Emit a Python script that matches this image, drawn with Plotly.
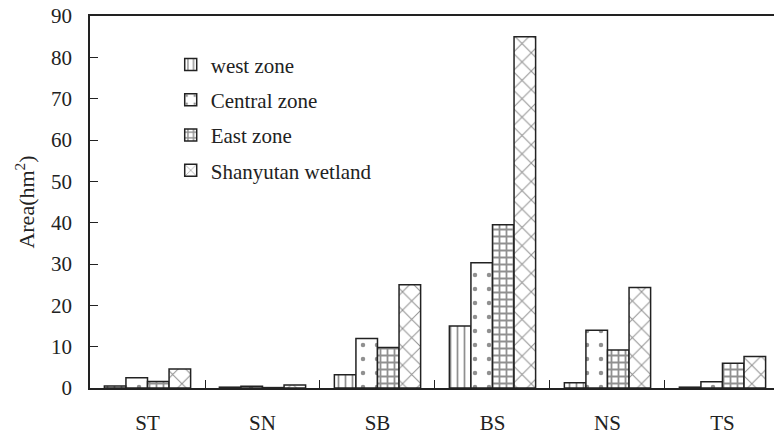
import plotly.graph_objects as go

categories = ["ST", "SN", "SB", "BS", "NS", "TS"]
west_zone = [0.5, 0.2, 3.2, 15.0, 1.3, 0.2]
central_zone = [2.5, 0.4, 12.0, 30.3, 14.0, 1.5]
east_zone = [1.6, 0.1, 9.8, 39.5, 9.2, 6.0]
shanyutan_wetland = [4.6, 0.7, 25.0, 85.0, 24.3, 7.6]

series = [
    ("west zone", west_zone, dict(shape="|", size=7, solidity=0.25)),
    ("Central zone", central_zone, dict(shape=".", size=14, solidity=0.08)),
    ("East zone", east_zone, dict(shape="+", size=7, solidity=0.45)),
    ("Shanyutan wetland", shanyutan_wetland, dict(shape="x", size=13, solidity=0.15)),
]

FONT = "Liberation Serif, Times New Roman, serif"

fig = go.Figure()
for i, (name, vals, pat) in enumerate(series):
    fig.add_trace(go.Bar(
        x=categories, y=vals, name=name, legendgroup=f"g{i}",
        marker=dict(color="white", line=dict(color="#222", width=1.5),
                    pattern=dict(fgcolor="#222", bgcolor="white", **pat)),
    ))

fig.update_layout(
    width=774, height=435,
    margin=dict(l=90, r=0, t=16, b=47),
    paper_bgcolor="white", plot_bgcolor="white",
    barmode="group", bargap=0.25, bargroupgap=0,
    font=dict(family=FONT, size=21, color="#222"),
    legend=dict(x=0.118, y=0.924, xanchor="left", yanchor="top",
                bgcolor="rgba(0,0,0,0)", font=dict(size=21),
                traceorder="grouped", tracegroupgap=5, itemwidth=30),
    showlegend=True,
)
fig.update_xaxes(
    range=[-0.5, 5.448], showline=True, linecolor="#222", linewidth=1.5,
    mirror=True, ticks="inside", tickson="boundaries", ticklen=8,
    tickcolor="#222", showgrid=False, ticklabelstandoff=15,
    tickfont=dict(size=21), automargin=False, ticklabeloverflow="allow",
)
fig.update_yaxes(
    range=[0, 90], dtick=10, showline=True, linecolor="#222", linewidth=1.5,
    ticks="inside", ticklen=8, tickcolor="#222", showgrid=False,
    zeroline=False, ticklabelstandoff=12, tickfont=dict(size=21),
    automargin=False, ticklabeloverflow="allow",
    title=dict(text="Area(hm<sup>2</sup>)", font=dict(size=22), standoff=10),
)

fig.write_html("out.html", config={"displayModeBar": False},
               post_script="document.body.style.margin='0';")
